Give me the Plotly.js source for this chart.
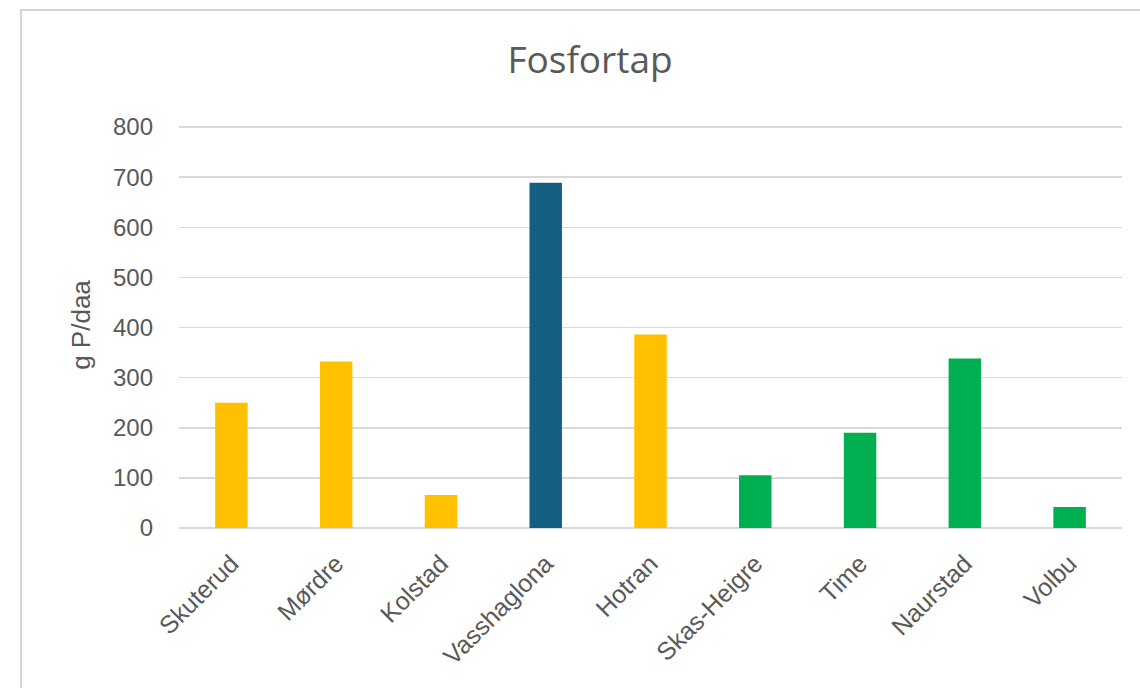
<!DOCTYPE html>
<html>
<head>
<meta charset="utf-8">
<script src="https://cdn.plot.ly/plotly-3.0.1.min.js"></script>
<style>
html,body{margin:0;padding:0;background:#fff;}
#wrap{position:relative;width:1140px;height:688px;overflow:hidden;}
#chart{position:absolute;left:0;top:0;width:1140px;height:688px;}
#frame{position:absolute;left:20px;top:9px;width:1200px;height:800px;border:2px solid #d6d6d6;pointer-events:none;}
</style>
</head>
<body>
<div id="wrap"><div id="chart"></div><div id="frame"></div></div>
<script>
const categories = ["Skuterud","Mørdre","Kolstad","Vasshaglona","Hotran","Skas-Heigre","Time","Naurstad","Volbu"];
const values = [250, 332, 66, 689, 386, 105, 190, 338, 42];
const barColors = ["#FFC000","#FFC000","#FFC000","#156082","#FFC000","#00B050","#00B050","#00B050","#00B050"];
const yTicks = [0,100,200,300,400,500,600,700,800];

const trace = {
  type: 'bar',
  x: categories,
  y: values,
  marker: {color: barColors, line: {width: 0}},
  hoverinfo: 'x+y'
};

const layout = {
  width: 1140, height: 688,
  margin: {l: 179, r: 18, t: 122, b: 160, autoexpand: false},
  paper_bgcolor: 'rgba(0,0,0,0)',
  plot_bgcolor: 'rgba(0,0,0,0)',
  bargap: 0.69,
  showlegend: false,
  font: {family: 'Liberation Sans, Arial, sans-serif', color: '#595959'},
  title: {
    text: 'Fosfortap',
    font: {family: 'Open Sans, Noto Sans, sans-serif', size: 37, color: '#595959'},
    x: 590/1140, xanchor: 'center', xref: 'container',
    y: 1 - 60/688, yref: 'container', yanchor: 'middle'
  },
  xaxis: {
    type: 'category',
    tickangle: -45,
    tickfont: {size: 25, color: '#595959'},
    showgrid: false,
    showline: false,
    ticks: '',
    ticklabelstandoff: 15,
    automargin: false
  },
  yaxis: {
    range: [0, 810],
    tickvals: yTicks,
    ticktext: yTicks.map(String),
    tickfont: {size: 24, color: '#595959'},
    showgrid: true,
    gridcolor: '#d9d9d9',
    gridwidth: 1.5,
    zeroline: true,
    zerolinecolor: '#d9d9d9',
    zerolinewidth: 1.5,
    showline: false,
    ticks: '',
    ticklabelstandoff: 25,
    automargin: false,
    title: {text: 'g P/daa', font: {size: 26, color: '#595959'}, standoff: 14}
  }
};

Plotly.newPlot('chart', [trace], layout, {displayModeBar: false, staticPlot: true});
</script>
</body>
</html>
